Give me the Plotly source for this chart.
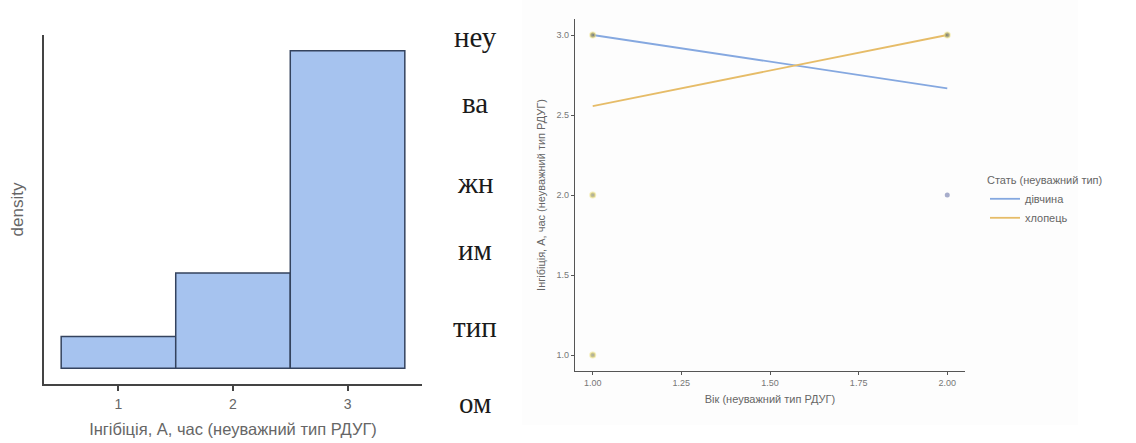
import plotly.graph_objects as go

W, H = 1136, 443

# ---- Data ----
hist_bins = [1, 2, 3]
hist_density = [1/14, 3/14, 10/14]

age_fit = [1.0, 2.0]
girl_fit = [3.0, 2.667]
boy_fit = [2.556, 3.0]

girl_pts_x = [1, 2, 2]
girl_pts_y = [3, 3, 2]
boy_pts_x = [1, 1, 1, 2]
boy_pts_y = [3, 2, 1, 3]

mid_words = ["неу", "ва", "жн", "им", "тип", "ом"]
mid_word_y = [37, 103, 183, 250, 327, 403]

x2_ticks = [1.0, 1.25, 1.5, 1.75, 2.0]
y2_ticks = [1.0, 1.5, 2.0, 2.5, 3.0]

def fx(px):
    return px / W

def fy(py):
    return 1 - py / H

fig = go.Figure()

# Histogram (density)
fig.add_trace(go.Bar(
    x=hist_bins, y=hist_density, width=1,
    marker=dict(color="#a6c3ef", line=dict(color="#34435e", width=1.5)),
    showlegend=False, xaxis="x", yaxis="y"))

blue = "#85a8e0"
orange = "#e6bc68"

fig.add_trace(go.Scatter(
    x=age_fit, y=girl_fit, mode="lines", name="дівчина",
    line=dict(color=blue, width=1.8), legendgroup="g",
    xaxis="x2", yaxis="y2"))
fig.add_trace(go.Scatter(
    x=age_fit, y=boy_fit, mode="lines", name="хлопець",
    line=dict(color=orange, width=1.8), legendgroup="b",
    xaxis="x2", yaxis="y2"))
fig.add_trace(go.Scatter(
    x=girl_pts_x, y=girl_pts_y, mode="markers", showlegend=False,
    marker=dict(color="rgba(110,120,170,0.6)", size=5), legendgroup="g",
    xaxis="x2", yaxis="y2"))
fig.add_trace(go.Scatter(
    x=boy_pts_x, y=boy_pts_y, mode="markers", showlegend=False,
    marker=dict(color="rgba(130,130,90,0.6)", size=5,
                line=dict(color="rgba(240,225,120,0.5)", width=2)),
    legendgroup="b", xaxis="x2", yaxis="y2"))

annotations = []
for w, yy in zip(mid_words, mid_word_y):
    annotations.append(dict(
        text=w, x=fx(475), y=fy(yy), xref="paper", yref="paper",
        showarrow=False, xanchor="center", yanchor="middle",
        font=dict(family="Liberation Serif", size=29, color="#1a1a1a")))

fig.update_layout(
    width=W, height=H,
    margin=dict(l=0, r=0, t=0, b=0),
    paper_bgcolor="white", plot_bgcolor="rgba(0,0,0,0)",
    font=dict(family="Liberation Sans", color="#666"),
    xaxis=dict(
        domain=[fx(44), fx(422)], range=[0.35, 3.65],
        tickvals=hist_bins, ticktext=[str(v) for v in hist_bins],
        ticks="outside", ticklen=5, tickcolor="#444", tickwidth=1.5,
        ticklabelstandoff=1,
        showline=True, linecolor="#444", linewidth=1.5,
        showgrid=False, zeroline=False,
        tickfont=dict(size=14, color="#666"),
        title=dict(text="Інгібіція, А, час (неуважний тип РДУГ)",
                   font=dict(size=16.5, color="#666"), standoff=13),
        anchor="y"),
    yaxis=dict(
        domain=[fy(384), fy(35)], range=[-0.0357, 0.75],
        showticklabels=False, ticks="",
        showline=True, linecolor="#444", linewidth=1.5,
        showgrid=False, zeroline=False,
        title=dict(text="density", font=dict(size=17, color="#666"), standoff=14),
        anchor="x"),
    xaxis2=dict(
        domain=[fx(575), fx(965)], range=[0.95, 2.05],
        tickvals=x2_ticks, ticktext=["%.2f" % v for v in x2_ticks],
        ticks="outside", ticklen=3, tickcolor="#555",
        showline=True, linecolor="#555", linewidth=1.2,
        showgrid=False, zeroline=False,
        tickfont=dict(size=9, color="#777"),
        title=dict(text="Вік (неуважний тип РДУГ)",
                   font=dict(size=11, color="#666"), standoff=8),
        anchor="y2"),
    yaxis2=dict(
        domain=[fy(371), fy(19)], range=[0.9, 3.1],
        tickvals=y2_ticks, ticktext=["%.1f" % v for v in y2_ticks],
        ticks="outside", ticklen=3, tickcolor="#555",
        showline=True, linecolor="#555", linewidth=1.2,
        showgrid=False, zeroline=False,
        tickfont=dict(size=9, color="#777"),
        title=dict(text="Інгібіція, А, час (неуважний тип РДУГ)",
                   font=dict(size=11, color="#666"), standoff=8),
        anchor="x2"),
    legend=dict(
        x=fx(985), y=fy(170), xanchor="left", yanchor="top",
        title=dict(text="Стать (неуважний тип)", font=dict(size=11, color="#666")),
        font=dict(size=11, color="#666"), itemwidth=30,
        tracegroupgap=0, bgcolor="rgba(0,0,0,0)"),
    shapes=[dict(type="rect", xref="paper", yref="paper",
                 x0=fx(522), x1=fx(1078), y0=fy(425), y1=fy(0),
                 fillcolor="#fdfdfd", line=dict(width=0), layer="below")],
    annotations=annotations,
)

fig.write_html("out.html")
